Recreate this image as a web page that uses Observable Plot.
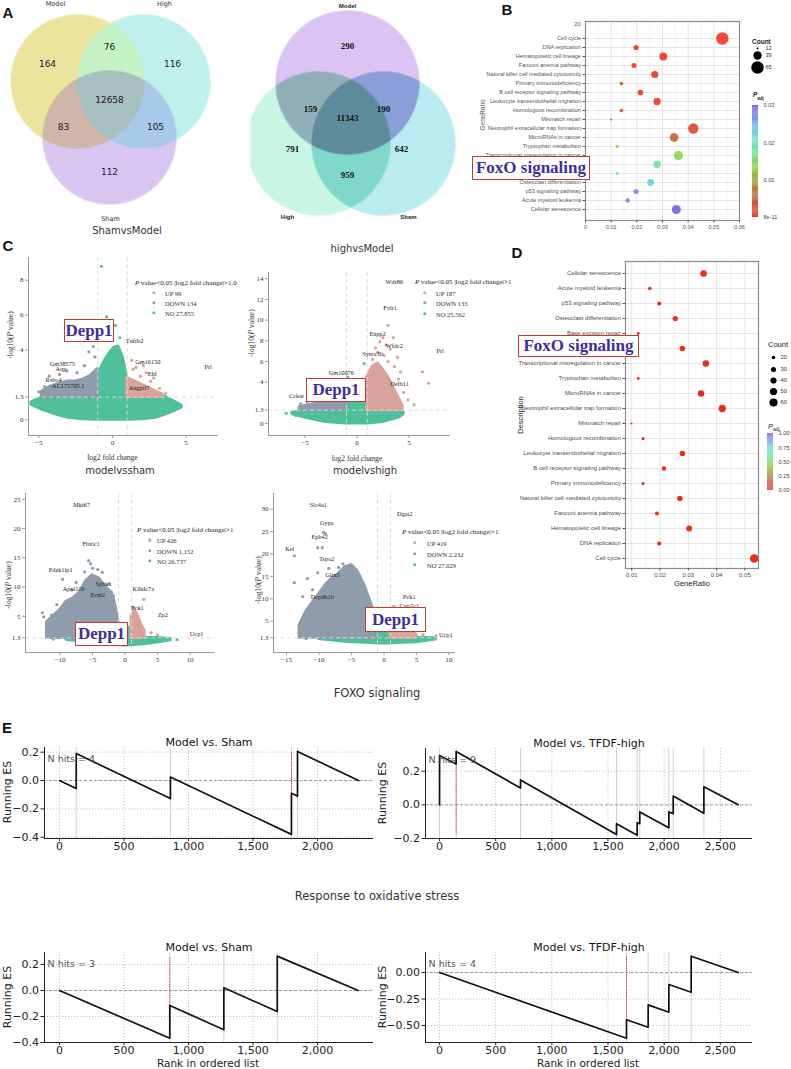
<!DOCTYPE html>
<html>
<head>
<meta charset="utf-8">
<script src="https://cdn.jsdelivr.net/npm/d3@7"></script>
<script src="https://cdn.jsdelivr.net/npm/@observablehq/plot@0.6"></script>
<style>
  html, body { margin: 0; padding: 0; background: #fff; }
  #fig { position: relative; width: 791px; height: 1069px; overflow: hidden; background: #fff; font-family: "DejaVu Sans", sans-serif; }
  #fig svg { position: absolute; overflow: visible; max-width: none; }
  .box { position: absolute; box-sizing: border-box; border: 1.6px solid #c23a33; background: #fff; color: #3b2f9f;
         font-family: "Liberation Serif", "Times New Roman", serif; font-weight: bold; display: flex;
         align-items: center; justify-content: center; white-space: nowrap; }
</style>
</head>
<body>
<div id="fig"></div>
<script>
// ===================== data =====================

// Panel A: overlap of expressed genes between groups
const vennSets = ["Model", "High", "Sham"];
const vennMasks = [1, 2, 4, 3, 5, 6, 7]; // Model only, High only, Sham only, M∩H, M∩S, H∩S, all three
const vennLeftCounts = [164, 116, 112, 76, 83, 105, 12658];
const vennRightCounts = [290, 791, 642, 159, 190, 959, 11343];

// Panels B and D: KEGG enrichment
const pathways = [
  "Cell cycle", "DNA replication", "Hematopoietic cell lineage", "Fanconi anemia pathway",
  "Natural killer cell mediated cytotoxicity", "Primary immunodeficiency", "B cell receptor signaling pathway",
  "Leukocyte transendothelial migration", "Homologous recombination", "Mismatch repair",
  "Neutrophil extracellular trap formation", "MicroRNAs in cancer", "Tryptophan metabolism",
  "Transcriptional misregulation in cancer", "FoxO signaling pathway", "Base excision repair",
  "Osteoclast differentiation", "p53 signaling pathway", "Acute myeloid leukemia", "Cellular senescence"
];
const geneRatio = [0.0533, 0.0197, 0.0303, 0.0189, 0.0270, 0.0140, 0.0214, 0.0279, 0.0140, 0.0099,
                   0.0420, 0.0345, 0.0123, 0.0362, 0.0279, 0.0123, 0.0254, 0.0197, 0.0164, 0.0354];
const geneCount = [65, 24, 37, 23, 33, 17, 26, 34, 17, 12, 51, 42, 15, 44, 34, 15, 31, 24, 20, 43];
const padj = [8e-11, 1e-6, 1e-5, 1e-5, 5e-5, 1e-4, 1e-4, 2e-4, 4e-4, 5e-4,
              0.002, 0.005, 0.011, 0.014, 0.0175, 0.018, 0.023, 0.027, 0.028, 0.030];
const countLegendB = [12, 39, 65];
const countLegendD = [20, 30, 40, 50, 60];
// row labels that sit underneath the highlight boxes
const boxedRowsB = ["FoxO signaling pathway", "Base excision repair"];
const boxedRowsD = ["FoxO signaling pathway"];

// Panel C: volcano plots (NO = not significant, DOWN, UP)
const volKeys = ["UP", "DOWN", "NO"];
// C1 Sham vs Model
const c1Counts = [99, 134, 27855];
const c1NoX  = [-5.5, -4.7, -4.0, -3.0, -2.0, -1.0, -1.0, -0.8, -0.5, -0.2, 0.1, 0.4, 0.7, 0.95, 1.0, 2.0, 3.0, 3.6, 4.2, 4.7];
const c1NoLo = [0.85, 0.55, 0.35, 0.12, 0.03, 0, 0, 0, 0, 0, 0, 0, 0, 0, 0, 0.03, 0.12, 0.3, 0.5, 0.7];
const c1NoHi = [1.0, 1.3, 1.3, 1.3, 1.3, 1.3, 2.5, 2.9, 3.4, 3.8, 4.1, 4.2, 3.6, 2.6, 1.3, 1.3, 1.3, 1.3, 1.05, 0.8];
const c1NoPts = [[-0.75, 8.8], [-0.4, 5.9], [0.2, 5.4], [-0.6, 4.6], [0.5, 4.7], [-5.4, 0.95], [-4.9, 0.85]];
const c1DownX  = [-4.8, -4.2, -3.5, -3.0, -2.5, -2.0, -1.5, -1.0];
const c1DownHi = [1.6, 1.9, 2.1, 2.2, 2.2, 2.3, 2.5, 2.9];
const c1DownPts = [[-1.6, 3.9], [-1.3, 4.2], [-1.2, 3.6], [-4.3, 2.5], [-3.6, 2.6], [-3.1, 2.8], [-2.4, 2.7], [-1.9, 3.1], [-5.0, 1.6], [-4.6, 1.9]];
const c1UpX  = [1.0, 1.5, 2.0, 2.5, 3.0, 3.4];
const c1UpHi = [2.4, 2.2, 2.0, 1.8, 1.6, 1.45];
const c1UpPts = [[1.3, 3.4], [1.6, 3.0], [2.1, 3.1], [2.3, 2.7], [2.8, 2.4], [3.2, 1.8], [3.6, 1.5], [1.9, 2.5], [2.6, 2.2], [1.4, 2.9]];
const c1Genes = ["Gm38575", "Aqp", "Rsbo4", "AC175705.1", "Tnfrb2", "Gm16150", "Ehf", "Angptl7", "Prl"];
const c1GeneX = [-3.4, -3.5, -4.0, -3.0, 1.5, 2.4, 2.7, 1.8, 6.5];
const c1GeneY = [3.2, 2.9, 2.3, 1.95, 4.5, 3.3, 2.6, 1.85, 3.0];

// C2 high vs Model
const c2Counts = [187, 133, 25562];
const c2NoX  = [-6.2, -4.6, -3.0, -1.0, -1.0, -0.6, -0.2, 0.2, 0.6, 1.0, 1.0, 2.5, 4.1, 4.5];
const c2NoLo = [0.9, 0.5, 0.15, 0, 0, 0, 0, 0, 0, 0, 0, 0.15, 0.6, 0.9];
const c2NoHi = [1.05, 1.3, 1.3, 1.3, 2.6, 2.9, 3.0, 3.0, 2.8, 2.5, 1.3, 1.3, 1.3, 1.05];
const c2NoPts = [[-0.9, 4.5], [0.7, 5.8], [-6.8, 1.0], [-5.9, 0.8], [-0.4, 3.5], [0.3, 3.7]];
const c2DownX  = [-5.5, -4.5, -3.5, -2.5, -1.5, -1.0];
const c2DownHi = [1.6, 1.8, 2.0, 2.2, 2.5, 2.7];
const c2DownPts = [[-5.4, 1.9], [-4.8, 2.1], [-3.5, 2.4], [-2.6, 2.6], [-1.8, 2.9], [-1.3, 3.1]];
const c2UpX  = [1.0, 1.5, 2.0, 2.5, 3.0, 3.5, 4.0, 4.4];
const c2UpHi = [4.5, 5.5, 5.8, 5.2, 4.5, 3.5, 2.5, 1.7];
const c2UpPts = [[3.0, 9.5], [2.5, 8.3], [3.5, 8.3], [2.2, 7.9], [2.8, 7.6], [3.2, 7.2], [1.8, 7.3], [2.0, 6.9], [2.6, 6.6],
                 [3.0, 6.0], [1.5, 6.2], [3.6, 5.5], [2.3, 5.2], [4.0, 4.3], [4.5, 3.0], [5.5, 1.8], [6.3, 5.0], [6.9, 3.9],
                 [4.9, 2.3], [1.6, 4.9], [3.9, 6.4], [4.2, 5.0]];
const c2Genes = ["Wdr86", "Folr1", "Enpp2", "Wfdc2", "Synta3b", "Gm10076", "Defb11", "Prl", "Cckar"];
const c2GeneX = [3.6, 3.2, 2.0, 3.6, 1.5, -1.5, 4.1, 8.0, -5.8];
const c2GeneY = [13.7, 11.2, 8.7, 7.5, 6.7, 4.9, 3.8, 7.0, 2.7];

// C3 model vs sham
const c3Counts = [426, 1152, 26737];
const c3NoX  = [-9.0, -7.0, -5.0, -3.0, -1.0, -1.0, 0, 1.0, 1.0, 3.0, 5.0, 7.0];
const c3NoLo = [1.0, 0.7, 0.4, 0.15, 0.02, 0.02, 0, 0.02, 0.02, 0.2, 0.5, 0.9];
const c3NoHi = [1.3, 1.3, 1.3, 1.3, 1.3, 3.0, 3.2, 3.0, 1.3, 1.3, 1.3, 1.1];
const c3NoPts = [[-11.0, 1.1], [8.0, 1.0]];
const c3DownX  = [-12.0, -10.0, -9.0, -8.0, -7.0, -6.0, -5.0, -4.0, -3.0, -2.0, -1.5, -1.0];
const c3DownHi = [4.0, 6.0, 7.5, 8.0, 9.0, 11.0, 12.0, 11.5, 10.0, 9.0, 7.0, 4.0];
const c3DownPts = [[-12.7, 5.6], [-12.5, 4.9], [-9.6, 11.3], [-5.6, 14.5], [-5.3, 14.0], [-5.0, 13.2], [-7.5, 10.8], [-6.2, 12.6],
                   [-8.2, 9.5], [-3.5, 12.5], [-4.2, 13.0], [-10.5, 7.0], [-11.3, 5.2], [-2.5, 10.5], [-1.8, 8.5]];
const c3UpX  = [1.0, 1.5, 2.0, 2.5, 3.0];
const c3UpHi = [5.0, 6.0, 5.0, 3.5, 2.5];
const c3UpPts = [[1.3, 6.5], [1.6, 5.5], [2.9, 7.9], [1.9, 4.3], [2.3, 3.2], [4.0, 2.2], [5.0, 1.8]];
const c3Genes = ["Mki67", "Fbxlc1", "Pdzk1ip1", "Apol11b", "Sphk1", "Ecm2", "Klhdc7a", "Pck1", "Zp2", "Ucp1"];
const c3GeneX = [-6.7, -5.2, -9.9, -7.9, -3.3, -4.2, 2.8, 1.9, 5.8, 11.0];
const c3GeneY = [24.1, 17.4, 13.0, 9.6, 10.6, 8.7, 9.6, 6.5, 5.3, 2.0];

// C4 model vs high
const c4Counts = [419, 2232, 27029];
const c4NoX  = [-10.0, -6.0, -3.0, -1.0, -1.0, 0, 1.0, 1.0, 3.0, 5.0, 8.0];
const c4NoLo = [1.0, 0.4, 0.15, 0.02, 0.02, 0, 0.02, 0.02, 0.15, 0.3, 0.9];
const c4NoHi = [1.3, 1.3, 1.3, 1.3, 3.0, 3.2, 3.0, 1.3, 1.3, 1.3, 1.2];
const c4NoPts = [[-12.0, 1.1]];
const c4DownX  = [-13.0, -12.0, -11.0, -10.0, -9.0, -8.0, -7.0, -6.0, -5.0, -4.0, -3.0, -2.0, -1.0];
const c4DownHi = [4.0, 7.0, 9.0, 11.0, 13.0, 14.5, 15.5, 17.0, 17.5, 16.0, 13.0, 9.0, 5.0];
const c4DownPts = [[-9.3, 24.8], [-9.0, 24.5], [-10.2, 21.4], [-9.5, 21.4], [-13.8, 19.6], [-13.8, 13.6], [-12.5, 10.5],
                   [-10.2, 15.8], [-11.8, 14.5], [-8.5, 16.8], [-6.3, 17.8], [-7.0, 17.0], [-11.0, 12.0]];
const c4UpX  = [1.0, 2.0, 3.0, 4.0, 5.0];
const c4UpHi = [6.0, 7.0, 5.0, 3.0, 2.0];
const c4UpPts = [[2.2, 7.5], [1.5, 8.3], [3.0, 6.0], [4.0, 3.5], [6.0, 2.0], [8.0, 1.8]];
const c4Genes = ["Slc4a1", "Dgat2", "Gypa", "Epb42", "Kel", "Tspo2", "Glrx5", "Dcpdh1b", "Pck1", "Cyp2c1", "Ucp1"];
const c4GeneX = [-10.1, 3.2, -8.8, -9.9, -14.5, -8.8, -7.9, -9.5, 3.9, 3.9, 9.5];
const c4GeneY = [31.0, 29.0, 27.0, 23.7, 21.2, 18.8, 15.2, 10.3, 10.5, 8.5, 2.0];

// Panel E: GSEA running enrichment scores
const e1Rank = [0, 130, 130, 860, 860, 1798, 1798, 1845, 1845, 2318];
const e1ES   = [0, -0.056, 0.19, -0.127, 0.025, -0.38, -0.09, -0.11, 0.205, 0];
const e1Hits = [130, 860, 1798, 1845];
const e2Rank = [0, 0, 148, 148, 721, 721, 1576, 1576, 1760, 1760, 1783, 1783, 2042, 2042, 2081, 2081, 2354, 2354, 2660];
const e2ES   = [0, 0.293, 0.243, 0.317, 0.1, 0.148, -0.176, -0.112, -0.18, -0.106, -0.112, -0.042, -0.136, -0.042, -0.052, 0.052, -0.05, 0.108, 0];
const e2Hits = [0, 148, 721, 1576, 1760, 1783, 2042, 2081, 2354];
const e3Rank = [0, 855, 855, 1274, 1274, 1688, 1688, 2315];
const e3ES   = [0, -0.367, -0.115, -0.302, 0.021, -0.162, 0.264, 0];
const e3Hits = [855, 1274, 1688];
const e4Rank = [0, 1665, 1665, 1858, 1858, 2042, 2042, 2241, 2241, 2660];
const e4ES   = [0, -0.62, -0.446, -0.516, -0.305, -0.374, -0.113, -0.186, 0.154, 0];
const e4Hits = [1665, 1858, 2042, 2241];

// ===================== helpers =====================
const fig = document.getElementById("fig");
const SERIF = "'Liberation Serif', 'Times New Roman', serif";
const SANS = "'Liberation Sans', Arial, sans-serif";
const DEJAVU = "'DejaVu Sans', sans-serif";

function place(node, left, top) {
  node.style.position = "absolute";
  node.style.left = left + "px";
  node.style.top = top + "px";
  fig.appendChild(node);
  return node;
}
function txt(html, x, y, css = "", ax = "middle", rot = 0) {
  const d = document.createElement("div");
  d.innerHTML = html;
  const tx = ax === "start" ? "0%" : ax === "end" ? "-100%" : "-50%";
  d.style.cssText = `position:absolute;left:${x}px;top:${y}px;white-space:nowrap;line-height:1;` +
    `transform:translate(${tx},-50%)${rot ? ` rotate(${rot}deg)` : ""};${css}`;
  fig.appendChild(d);
  return d;
}
function box(text, x0, y0, x1, y1, size) {
  const d = document.createElement("div");
  d.className = "box";
  d.textContent = text;
  d.style.cssText += `left:${x0}px;top:${y0}px;width:${x1 - x0}px;height:${y1 - y0}px;font-size:${size}px;`;
  fig.appendChild(d);
}

// ===================== Panel A: Venn diagrams =====================
const vennLayout = {
  left: {
    circles: [[77, 81], [143, 81], [109, 137]], r: 67,
    labelXY: {1: [47, 64], 2: [172, 64], 4: [109, 172], 3: [109, 47], 5: [63, 127], 6: [155, 127], 7: [109, 100]},
    setXY: [[55, 3], [164, 3], [110, 218]],
    colors: {1: "#ece39c", 2: "#c0f0ec", 4: "#d8c6f1", 3: "#c4f2c4", 5: "#cfb5aa", 6: "#a9c9e8", 7: "#a6bfbf"}
  },
  right: {
    circles: [[347, 82], [318, 143], [383, 143]], r: 72,
    labelXY: {1: [347, 46], 2: [292, 149], 4: [401, 149], 3: [310, 109], 5: [383, 109], 6: [347, 175], 7: [347, 118]},
    setXY: [[347, 6], [287, 217], [408, 217]],
    colors: {1: "#dbc4f4", 2: "#c8f6e3", 4: "#b8ecf0", 3: "#90afb8", 5: "#8a9fd9", 6: "#7fd8cb", 7: "#5f8c9c"}
  }
};
function vennMask(L, x, y) {
  let m = 0;
  L.circles.forEach(([cx, cy], i) => { if ((x - cx) ** 2 + (y - cy) ** 2 <= L.r * L.r) m |= 1 << i; });
  return m;
}
const vennRegions = (L, counts) => vennMasks.map((m, i) => ({x: L.labelXY[m][0], y: L.labelXY[m][1], n: counts[i]}));
const vennPlot = Plot.plot({
  width: 462, height: 245, margin: 0,
  x: {domain: [0, 462], range: [0, 462], axis: null},
  y: {domain: [0, 245], range: [0, 245], axis: null},
  color: {type: "identity"},
  style: {background: "transparent", overflow: "visible"},
  marks: [
    Plot.raster({x1: 0, y1: 0, x2: 462, y2: 245, pixelSize: 0.5,
      fill: (x, y) => {
        const L = x < 250 ? vennLayout.left : vennLayout.right;
        const m = vennMask(L, x, y);
        return m ? L.colors[m] : "#ffffff";
      }}),
    Plot.text(vennRegions(vennLayout.left, vennLeftCounts), {x: "x", y: "y", text: d => String(d.n),
      fontFamily: DEJAVU, fontSize: 9, fill: "#222"}),
    Plot.text(vennRegions(vennLayout.right, vennRightCounts), {x: "x", y: "y", text: d => String(d.n),
      fontFamily: SERIF, fontWeight: "bold", fontSize: 9, fill: "#111"}),
    Plot.text(vennSets, {x: (d, i) => vennLayout.left.setXY[i][0], y: (d, i) => vennLayout.left.setXY[i][1],
      text: d => d, fontFamily: DEJAVU, fontSize: 6.5, fill: "#333"}),
    Plot.text(vennSets, {x: (d, i) => vennLayout.right.setXY[i][0], y: (d, i) => vennLayout.right.setXY[i][1],
      text: d => d, fontFamily: SANS, fontWeight: "bold", fontSize: 6, fill: "#222"})
  ]
});
place(vennPlot, 0, 0);

// ===================== Panels B and D: enrichment dot plots =====================
const pathTable = pathways.map((name, i) => ({name, ratio: geneRatio[i], count: geneCount[i], padj: padj[i]}));
const padjPalette = ["#ee2a1b", "#c8502c", "#a88a30", "#8ccd2a", "#62e38a", "#66dfd6", "#6f9fe8", "#7553d8"];
const padjInterp = d3.piecewise(d3.interpolateRgb, padjPalette);

const bPlot = Plot.plot({
  width: 331, height: 240,
  marginLeft: 125, marginRight: 52, marginTop: 21, marginBottom: 20,
  style: {background: "transparent", overflow: "visible", fontFamily: SANS, fontSize: "5.6px", color: "#555"},
  x: {domain: [0, 0.06]},
  y: {type: "point", domain: pathways, range: [32, 215], padding: 0},
  r: {type: "sqrt", domain: [12, 65], range: [1, 6.2]},
  color: {domain: [0, 0.03], interpolate: padjInterp, clamp: true},
  marks: [
    Plot.ruleX(d3.range(0.005, 0.06, 0.01), {stroke: "#f3f3f3"}),
    Plot.ruleX(d3.range(0, 0.0601, 0.01), {stroke: "#e4e4e4"}),
    Plot.ruleY(pathways, {y: d => d, stroke: "#e4e4e4"}),
    Plot.dot(pathTable, {x: "ratio", y: "name", r: "count", fill: "padj", fillOpacity: 0.85}),
    Plot.frame({stroke: "#8c8c8c", strokeWidth: 1.2}),
    Plot.axisX({ticks: d3.range(0, 0.0601, 0.01), tickSize: 2.5, tickPadding: 2, label: null,
      tickFormat: d => d < 1e-9 ? "0" : d3.format(".2f")(d)}),
    Plot.axisY({tickSize: 2.5, tickPadding: 2, label: null, tickFormat: d => boxedRowsB.includes(d) ? "" : d}),
    Plot.text(["20"], {frameAnchor: "top-left", dx: -5, dy: 1, textAnchor: "end", text: d => d})
  ]
});
place(bPlot, 460, 0);
txt("GeneRatio", 482, 115, `font:6.5px ${SANS};color:#555`, "middle", -90);

const dPlot = Plot.plot({
  width: 281, height: 355,
  marginLeft: 115, marginRight: 33, marginTop: 21, marginBottom: 27,
  style: {background: "transparent", overflow: "visible", fontFamily: SANS, fontSize: "6px", color: "#4d4d4d"},
  x: {domain: [0.0078, 0.0548]},
  y: {type: "point", domain: pathways.slice().reverse(), range: [30, 321], padding: 0},
  r: {type: "sqrt", domain: [12, 65], range: [1.1, 4.3]},
  color: {domain: [0, 1], interpolate: padjInterp},
  marks: [
    Plot.ruleX(d3.range(0.015, 0.055, 0.01), {stroke: "#f3f3f3"}),
    Plot.ruleX(d3.range(0.01, 0.0501, 0.01), {stroke: "#e6e6e6"}),
    Plot.ruleY(pathways, {y: d => d, stroke: "#e6e6e6"}),
    Plot.dot(pathTable, {x: "ratio", y: "name", r: "count", fill: "padj"}),
    Plot.frame({stroke: "#8c8c8c", strokeWidth: 1.2}),
    Plot.axisX({ticks: d3.range(0.01, 0.0501, 0.01), tickSize: 2.5, tickPadding: 2, label: null, tickFormat: d3.format(".2f")}),
    Plot.axisY({tickSize: 2.5, tickPadding: 2, label: null, tickFormat: d => boxedRowsD.includes(d) ? "" : d})
  ]
});
place(dPlot, 510, 240);
txt("Description", 520, 415, `font:7.5px ${SANS};color:#222`, "middle", -90);
txt("GeneRatio", 692, 583, `font:7.5px ${SANS};color:#222`);

// legends for B and D
function countLegend(values, rScale, ys, dotX, labX, fs) {
  return Plot.plot({
    width: 60, height: 200, margin: 0,
    x: {type: "identity", axis: null}, y: {type: "identity", axis: null},
    r: rScale,
    style: {background: "transparent", overflow: "visible", fontFamily: SANS},
    marks: [
      Plot.dot(values, {x: dotX, y: (d, i) => ys[i], r: d => d, fill: "#000"}),
      Plot.text(values, {x: labX, y: (d, i) => ys[i], text: d => String(d), textAnchor: "start", fontSize: fs, fill: "#333"})
    ]
  });
}
function colorBar(domain, ticks, fmt, barH, fs) {
  const n = 120, dv = (domain[1] - domain[0]) / n;
  const steps = d3.range(n).map(k => domain[0] + k * dv);
  return Plot.plot({
    width: 40, height: barH + 10, marginTop: 5, marginBottom: 5, marginLeft: 0, marginRight: 0,
    x: {type: "identity", axis: null},
    y: {domain, axis: null},
    color: {domain, interpolate: padjInterp},
    style: {background: "transparent", overflow: "visible", fontFamily: SANS},
    marks: [
      Plot.rect(steps, {x1: 2, x2: 8, y1: d => d, y2: d => d + dv * 1.05, fill: d => d}),
      Plot.text(ticks, {x: 13, y: d => d, text: fmt, textAnchor: "start", fontSize: fs, fill: "#444"})
    ]
  });
}
// B legends
place(countLegend(countLegendB, {type: "sqrt", domain: [12, 65], range: [1, 6.2]}, [48, 55, 67], 17, 25, 5.6), 740, 0);
txt("Count", 752, 41, `font:bold 6.5px ${SANS};color:#222`, "start");
txt("<i>P</i><sub style='font-size:4.5px'>adj</sub>", 753, 96, `font:bold 6.5px ${SANS};color:#222`, "start");
place(colorBar([8e-11, 0.03], [8e-11, 0.01, 0.02, 0.03], d => d < 1e-9 ? "8e-11" : d3.format(".2f")(d), 112, 5.6), 750, 100);
// D legends
place(countLegend(countLegendD, {type: "sqrt", domain: [12, 65], range: [1.1, 4.3]}, [357, 369, 380, 391, 402], 33, 40, 5.8), 740, 0);
txt("Count", 768, 344, `font:7.5px ${SANS};color:#222`, "start");
txt("<i>P</i><sub style='font-size:5px'>adj</sub>", 768, 427, `font:7.5px ${SANS};color:#222`, "start");
place(colorBar([0, 1], [0, 0.25, 0.5, 0.75, 1], d3.format(".2f"), 57, 5.8), 765, 428);

// ===================== Panel C: volcano plots =====================
const volColors = {UP: "#d9a29a", DOWN: "#8f9cac", NO: "#50bf9b"};
function volcano(o) {
  const band = (X, lo, hi, fill) => Plot.areaY(X, {
    x: d => d, y1: Array.isArray(lo) ? (d, i) => lo[i] : lo, y2: (d, i) => hi[i],
    fill, stroke: fill, strokeWidth: 3, strokeLinejoin: "round"
  });
  const pts = (P, fill) => Plot.dot(P, {x: d => d[0], y: d => d[1], r: 1.6, fill});
  return Plot.plot({
    width: o.w, height: o.h, marginLeft: o.ml, marginRight: o.mr, marginTop: o.mt, marginBottom: o.mb,
    style: {background: "transparent", overflow: "visible", fontFamily: SERIF, fontSize: "7px", color: "#333"},
    x: {domain: o.xDomain},
    y: {domain: o.yDomain},
    marks: [
      band(o.noX, o.noLo, o.noHi, volColors.NO), pts(o.noPts, volColors.NO),
      band(o.downX, 1.3, o.downHi, volColors.DOWN), pts(o.downPts, volColors.DOWN),
      band(o.upX, 1.3, o.upHi, volColors.UP), pts(o.upPts, volColors.UP),
      Plot.ruleX([-1, 1], {stroke: "#dadada", strokeDasharray: "4,3", strokeWidth: 0.9}),
      Plot.ruleY([1.3], {stroke: "#dadada", strokeDasharray: "4,3", strokeWidth: 0.9}),
      Plot.text(o.genes, {x: (d, i) => o.geneX[i], y: (d, i) => o.geneY[i], text: d => d, fontSize: 6.3, fill: "#222"}),
      Plot.ruleX([o.xDomain[0]], {stroke: "#9a9a9a"}),
      Plot.ruleY([o.yDomain[0]], {stroke: "#9a9a9a"}),
      Plot.axisX({ticks: o.xTicks, tickSize: 3, tickPadding: 2, stroke: "#9a9a9a", label: null, tickFormat: d3.format("")}),
      Plot.axisY({ticks: o.yTicks, tickSize: 3, tickPadding: 2, stroke: "#9a9a9a", label: null, tickFormat: d => String(d)}),
      ...(o.xLabel ? [Plot.text(["log2 fold change"], {x: 0, y: o.yDomain[0], dy: o.xLabel, fontSize: 7.5, fill: "#333", text: d => d})] : [])
    ]
  });
}
function volLegend(counts, x, y, gap, markX, textX, thr) {
  txt(`<i>P</i> value&lt;0.05 |log2 fold change|&gt;${thr}`, x, y, `font:7px ${SERIF};color:#222`, "start");
  volKeys.forEach((k, i) => {
    const yy = y + gap * (i + 1);
    txt("", markX, yy, `width:3.4px;height:3.4px;border-radius:50%;background:${volColors[k]}`);
    txt(`${k} ${d3.format(",")(counts[i])}`, textX, yy, `font:6.5px ${SERIF};color:#333`, "start");
  });
}

place(volcano({
  w: 255, h: 215, ml: 28, mr: 37, mt: 7, mb: 30, xDomain: [-5.7, 7.2], yDomain: [-0.9, 9.3],
  xTicks: [-5, 0, 5], yTicks: [0, 1.3, 4, 6, 8], xLabel: 22,
  noX: c1NoX, noLo: c1NoLo, noHi: c1NoHi, noPts: c1NoPts,
  downX: c1DownX, downHi: c1DownHi, downPts: c1DownPts,
  upX: c1UpX, upHi: c1UpHi, upPts: c1UpPts,
  genes: c1Genes, geneX: c1GeneX, geneY: c1GeneY
}), 0, 250);
volLegend(c1Counts, 135, 283, 10, 154, 165, "1.0");

place(volcano({
  w: 255, h: 215, ml: 28, mr: 45, mt: 22, mb: 30, xDomain: [-8.5, 9.0], yDomain: [-1.15, 14.6],
  xTicks: [-5, 0, 5], yTicks: [0, 1.3, 4, 6, 8, 10, 12, 14], xLabel: 23,
  noX: c2NoX, noLo: c2NoLo, noHi: c2NoHi, noPts: c2NoPts,
  downX: c2DownX, downHi: c2DownHi, downPts: c2DownPts,
  upX: c2UpX, upHi: c2UpHi, upPts: c2UpPts,
  genes: c2Genes, geneX: c2GeneX, geneY: c2GeneY
}), 240, 250);
volLegend(c2Counts, 415, 282, 10.5, 425, 436, "1");

place(volcano({
  w: 240, h: 190, ml: 25, mr: 25, mt: 13, mb: 18, xDomain: [-15.3, 13.9], yDomain: [-1.2, 26.0],
  xTicks: [-10, -5, 0, 5, 10], yTicks: [1.3, 5, 10, 15, 20, 25], xLabel: 0,
  noX: c3NoX, noLo: c3NoLo, noHi: c3NoHi, noPts: c3NoPts,
  downX: c3DownX, downHi: c3DownHi, downPts: c3DownPts,
  upX: c3UpX, upHi: c3UpHi, upPts: c3UpPts,
  genes: c3Genes, geneX: c3GeneX, geneY: c3GeneY
}), 0, 480);
volLegend(c3Counts, 137, 530, 10.3, 150, 157, "1");

place(volcano({
  w: 255, h: 190, ml: 33, mr: 40, mt: 13, mb: 18, xDomain: [-17, 11], yDomain: [-2.0, 33.5],
  xTicks: [-15, -10, -5, 0, 5, 10], yTicks: [1.3, 5, 10, 15, 20, 25, 30], xLabel: 0,
  noX: c4NoX, noLo: c4NoLo, noHi: c4NoHi, noPts: c4NoPts,
  downX: c4DownX, downHi: c4DownHi, downPts: c4DownPts,
  upX: c4UpX, upHi: c4UpHi, upPts: c4UpPts,
  genes: c4Genes, geneX: c4GeneX, geneY: c4GeneY
}), 240, 480);
volLegend(c4Counts, 402, 532, 11, 415, 427, "1");

const yLab = "-log10(<i>P</i> value)";
txt(yLab, 10, 335, `font:7.5px ${SERIF};color:#333`, "middle", -90);
txt(yLab, 251, 333, `font:7.5px ${SERIF};color:#333`, "middle", -90);
txt(yLab, 8, 585, `font:7.5px ${SERIF};color:#333`, "middle", -90);
txt(yLab, 258, 580, `font:7.5px ${SERIF};color:#333`, "middle", -90);

txt("ShamvsModel", 127, 230, `font:10px ${DEJAVU};color:#333`);
txt("highvsModel", 362, 248, `font:10px ${DEJAVU};color:#333`);
txt("modelvssham", 120, 470, `font:10px ${DEJAVU};color:#333`);
txt("modelvshigh", 365, 470, `font:10px ${DEJAVU};color:#333`);

box("Depp1", 64, 319, 114, 342, 17);
box("Depp1", 306, 378, 366, 402, 17);
box("Depp1", 75, 622, 128, 646, 17);
box("Depp1", 365, 607, 426, 632, 17);
box("FoxO signaling", 472, 156, 590, 180, 17);
box("FoxO signaling", 518, 335, 639, 357, 17);

// ===================== Panel E: GSEA running-score plots =====================
function esPlot(o) {
  return Plot.plot({
    width: o.w, height: o.h, marginLeft: o.ml, marginRight: o.mr, marginTop: o.mt, marginBottom: o.mb,
    style: {background: "transparent", overflow: "visible", fontFamily: DEJAVU, fontSize: "11px", color: "#222"},
    x: {domain: o.xDomain},
    y: {domain: o.yDomain},
    marks: [
      Plot.ruleX(o.xTicks, {stroke: "#c4c4c4", strokeDasharray: "1.2,1.8"}),
      Plot.ruleY(o.yTicks, {stroke: "#c4c4c4", strokeDasharray: "1.2,1.8"}),
      Plot.ruleX(o.hits, {stroke: "#d2d2d2", strokeWidth: 1}),
      Plot.ruleY([0], {stroke: "#8a8a8a", strokeDasharray: "3,2", strokeWidth: 0.8}),
      Plot.ruleX([o.peak], {y1: o.peakTop, y2: o.peakBottom, stroke: "#e0245e", strokeDasharray: "1.2,1", strokeWidth: 1}),
      Plot.line(o.rank, {x: d => d, y: (d, i) => o.es[i], stroke: "#111", strokeWidth: 1.7}),
      Plot.ruleX([o.xDomain[0]], {stroke: "#222"}),
      Plot.ruleY([o.yDomain[0]], {stroke: "#222"}),
      Plot.axisX({ticks: o.xTicks, tickFormat: d3.format(","), tickSize: 3, tickPadding: 1, label: null, stroke: "#222"}),
      Plot.axisY({ticks: o.yTicks, tickFormat: d3.format(o.yFmt), tickSize: 3.5, tickPadding: 2, label: null, stroke: "#222"}),
      Plot.text([o.title], {frameAnchor: "top", dy: -9, fontSize: 11, fill: "#111", text: d => d}),
      Plot.text([`N hits = ${o.hits.length}`], {frameAnchor: "top-left", dx: 3, dy: 8, fontSize: 9.5, fill: "#555",
        textAnchor: "start", text: d => d})
    ]
  });
}
const xTicksShort = [0, 500, 1000, 1500, 2000];
const xTicksLong = [0, 500, 1000, 1500, 2000, 2500];

place(esPlot({w: 395, h: 132, ml: 44, mr: 22, mt: 19, mb: 22, xDomain: [-116, 2434], yDomain: [-0.409, 0.233],
  xTicks: xTicksShort, yTicks: [-0.4, -0.2, 0, 0.2], yFmt: ".1f", title: "Model vs. Sham",
  rank: e1Rank, es: e1ES, hits: e1Hits, peak: 1798, peakTop: 0.195, peakBottom: -0.38}), 0, 728);
place(esPlot({w: 417, h: 132, ml: 51, mr: 39, mt: 20, mb: 22, xDomain: [-125, 2787], yDomain: [-0.2, 0.335],
  xTicks: xTicksLong, yTicks: [-0.2, 0, 0.2], yFmt: ".1f", title: "Model vs. TFDF-high",
  rank: e2Rank, es: e2ES, hits: e2Hits, peak: 148, peakTop: 0.317, peakBottom: -0.18}), 374, 728);
place(esPlot({w: 395, h: 137, ml: 44, mr: 22, mt: 20, mb: 27, xDomain: [-116, 2434], yDomain: [-0.4, 0.292],
  xTicks: xTicksShort, yTicks: [-0.4, -0.2, 0, 0.2], yFmt: ".1f", title: "Model vs. Sham",
  rank: e3Rank, es: e3ES, hits: e3Hits, peak: 855, peakTop: 0.25, peakBottom: -0.367}), 0, 932);
place(esPlot({w: 417, h: 137, ml: 51, mr: 39, mt: 20, mb: 27, xDomain: [-125, 2787], yDomain: [-0.66, 0.189],
  xTicks: xTicksLong, yTicks: [-0.5, -0.25, 0], yFmt: ".2f", title: "Model vs. TFDF-high",
  rank: e4Rank, es: e4ES, hits: e4Hits, peak: 1665, peakTop: 0.144, peakBottom: -0.62}), 374, 932);

const esLabCss = `font:11px ${DEJAVU};color:#222`;
txt("Running ES", 7, 792, esLabCss, "middle", -90);
txt("Running ES", 382, 793, esLabCss, "middle", -90);
txt("Running ES", 7, 997, esLabCss, "middle", -90);
txt("Running ES", 382, 997, esLabCss, "middle", -90);
txt("Rank in ordered list", 208, 1063, `font:10.5px ${DEJAVU};color:#222`);
txt("Rank in ordered list", 588, 1063, `font:10.5px ${DEJAVU};color:#222`);

txt("FOXO signaling", 377, 693, `font:11.5px ${DEJAVU};color:#333`);
txt("Response to oxidative stress", 377, 896, `font:11.5px ${DEJAVU};color:#333`);

// panel letters
const letterCss = `font:bold 15px ${SANS};color:#111`;
txt("A", 8, 12, letterCss);
txt("B", 507, 9, letterCss);
txt("C", 8, 245, letterCss);
txt("D", 517, 252, letterCss);
txt("E", 7, 727, letterCss);
</script>
</body>
</html>
